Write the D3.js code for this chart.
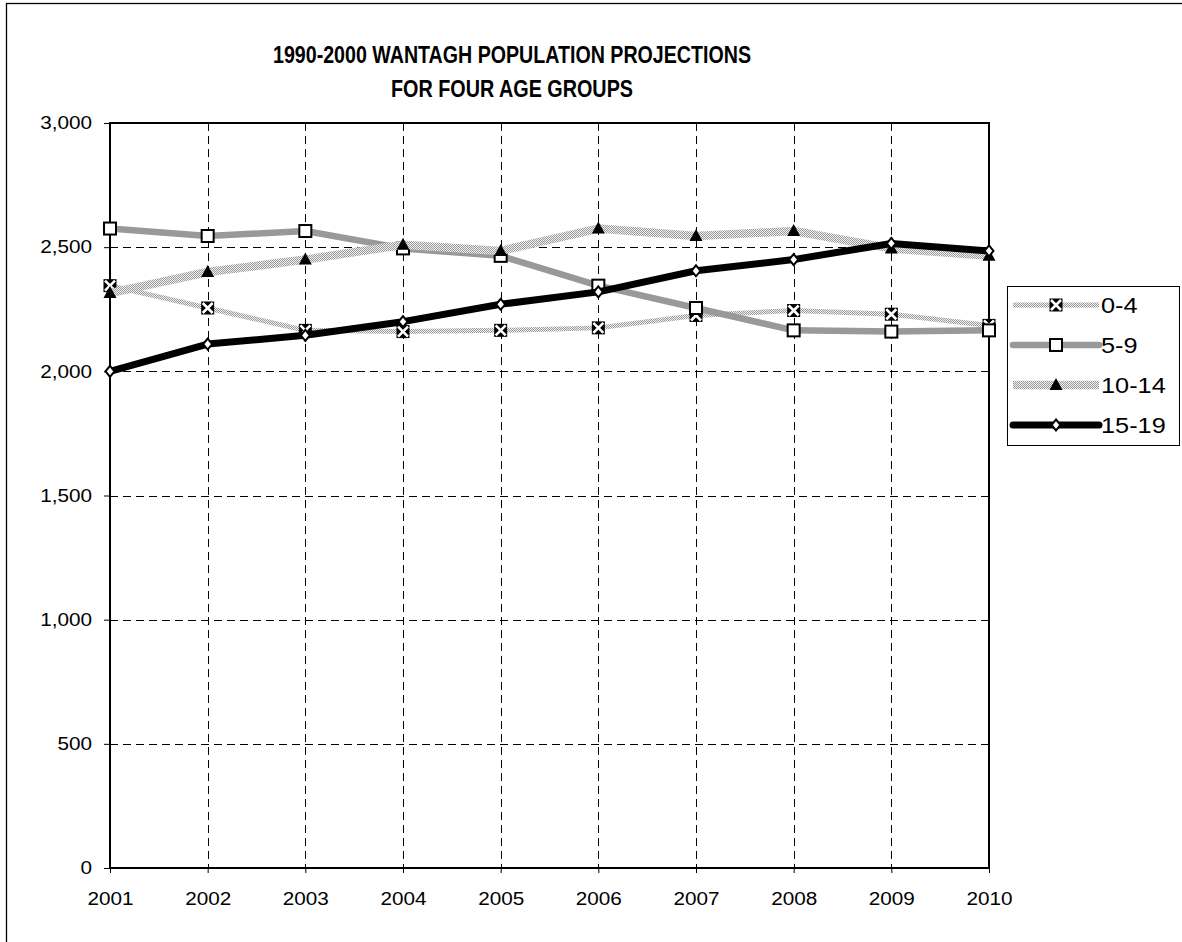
<!DOCTYPE html>
<html>
<head>
<meta charset="utf-8">
<script src="https://cdn.jsdelivr.net/npm/d3@7"></script>
<style>
  html, body { margin: 0; padding: 0; background: #fff; }
  svg { display: block; font-family: "Liberation Sans", Arial, sans-serif; }
</style>
</head>
<body>
<svg id="chart" width="1182" height="942"></svg>
<script>
const years = [2001, 2002, 2003, 2004, 2005, 2006, 2007, 2008, 2009, 2010];
const seriesNames = ["0-4", "5-9", "10-14", "15-19"];
const age0to4   = [2345, 2255, 2165, 2160, 2165, 2175, 2225, 2245, 2230, 2185];
const age5to9   = [2575, 2545, 2565, 2495, 2465, 2345, 2255, 2165, 2160, 2165];
const age10to14 = [2315, 2400, 2450, 2510, 2485, 2575, 2545, 2565, 2495, 2465];
const age15to19 = [2000, 2110, 2145, 2200, 2270, 2320, 2405, 2450, 2515, 2485];
const yTicks = [0, 500, 1000, 1500, 2000, 2500, 3000];
const titleLines = ["1990-2000 WANTAGH POPULATION PROJECTIONS", "FOR FOUR AGE GROUPS"];

const svg = d3.select("#chart");
const defs = svg.append("defs");
const pat = defs.append("pattern").attr("id", "dots")
  .attr("width", 2).attr("height", 2).attr("patternUnits", "userSpaceOnUse");
pat.append("rect").attr("width", 2).attr("height", 2).attr("fill", "#f2f2f2");
pat.append("rect").attr("x", 0).attr("y", 0).attr("width", 1).attr("height", 1).attr("fill", "#999");
pat.append("rect").attr("x", 1).attr("y", 1).attr("width", 1).attr("height", 1).attr("fill", "#999");

function stretch(sel, k) {
  sel.each(function () {
    const w = this.getComputedTextLength();
    d3.select(this).attr("textLength", w * k).attr("lengthAdjust", "spacingAndGlyphs");
  });
}

// outer frame
svg.append("rect").attr("x", 6.5).attr("y", 3.5).attr("width", 1200).attr("height", 1000)
  .attr("fill", "none").attr("stroke", "#000").attr("stroke-width", 1.3);

const L = 110, R = 989, T = 123, B = 868;
const x = d3.scaleLinear().domain([years[0], years[years.length - 1]]).range([L, R]);
const y = d3.scaleLinear().domain([0, 3000]).range([B, T]);

// title
svg.append("g").selectAll("text").data(titleLines).join("text")
  .attr("x", 512).attr("y", (d, i) => 63 + i * 33.5)
  .attr("text-anchor", "middle").attr("font-weight", "bold").attr("font-size", 23.5)
  .attr("textLength", (d, i) => i === 0 ? 478 : 242).attr("lengthAdjust", "spacingAndGlyphs")
  .text(d => d);

// grid
const grid = svg.append("g").attr("stroke", "#000").attr("stroke-width", 1).attr("stroke-dasharray", "8,5");
grid.selectAll("line.h").data(yTicks.filter(v => v > 0 && v < 3000)).join("line").attr("class", "h")
  .attr("x1", L).attr("x2", R).attr("y1", d => Math.round(y(d)) + 0.5).attr("y2", d => Math.round(y(d)) + 0.5);
grid.selectAll("line.v").data(years.slice(1, -1)).join("line").attr("class", "v")
  .attr("y1", T).attr("y2", B).attr("x1", d => Math.round(x(d)) + 0.5).attr("x2", d => Math.round(x(d)) + 0.5);

// axes
const yAxis = svg.append("g").attr("transform", `translate(${L},0)`)
  .call(d3.axisLeft(y).tickValues(yTicks).tickFormat(d3.format(",")).tickSize(6).tickPadding(12));
const xAxis = svg.append("g").attr("transform", `translate(0,${B})`)
  .call(d3.axisBottom(x).tickValues(years).tickFormat(d3.format("d")).tickSize(5).tickPadding(19));
[yAxis, xAxis].forEach(a => {
  a.select(".domain").remove();
  a.attr("font-size", 18).attr("font-family", "'Liberation Sans', Arial, sans-serif");
  a.selectAll("line").attr("stroke", "#000").attr("stroke-width", 1);
  a.selectAll("text").attr("font-size", 18).attr("fill", "#000");
  stretch(a.selectAll("text"), 1.15);
});

// plot border
svg.append("rect").attr("x", L).attr("y", T).attr("width", R - L).attr("height", B - T)
  .attr("fill", "none").attr("stroke", "#000").attr("stroke-width", 2);

const series = [
  { name: seriesNames[0], values: age0to4, stroke: "url(#dots)", width: 5, cap: "butt", marker: "xsq" },
  { name: seriesNames[1], values: age5to9, stroke: "#999999", width: 6.5, cap: "round", marker: "square" },
  { name: seriesNames[2], values: age10to14, stroke: "url(#dots)", width: 8.5, cap: "butt", marker: "triangle" },
  { name: seriesNames[3], values: age15to19, stroke: "#000", width: 7, cap: "round", marker: "diamond" }
];

function drawMarker(g, type, cx, cy) {
  if (type === "xsq") {
    g.append("rect").attr("x", cx - 6.5).attr("y", cy - 6.5).attr("width", 13).attr("height", 13).attr("fill", "#000");
    g.append("path").attr("d", `M${cx - 5},${cy - 5}L${cx + 5},${cy + 5}M${cx + 5},${cy - 5}L${cx - 5},${cy + 5}`)
      .attr("stroke", "#fff").attr("stroke-width", 2.6);
  } else if (type === "square") {
    g.append("rect").attr("x", cx - 6).attr("y", cy - 6).attr("width", 12).attr("height", 12)
      .attr("fill", "#fff").attr("stroke", "#000").attr("stroke-width", 2);
  } else if (type === "triangle") {
    g.append("path").attr("d", `M${cx},${cy - 7}L${cx + 6.5},${cy + 5}L${cx - 6.5},${cy + 5}Z`).attr("fill", "#000");
  } else if (type === "diamond") {
    g.append("path").attr("d", `M${cx},${cy - 5.5}L${cx + 4.5},${cy}L${cx},${cy + 5.5}L${cx - 4.5},${cy}Z`)
      .attr("fill", "#fff").attr("stroke", "#000").attr("stroke-width", 2);
  }
}

const line = d3.line().x((d, i) => x(years[i])).y(d => y(d));
series.forEach(s => {
  const g = svg.append("g");
  g.append("path").datum(s.values).attr("d", line).attr("fill", "none")
    .attr("stroke", s.stroke).attr("stroke-width", s.width).attr("stroke-linejoin", "round").attr("stroke-linecap", s.cap);
  s.values.forEach((v, i) => drawMarker(g, s.marker, x(years[i]), y(v)));
});

// legend
const lg = svg.append("g");
lg.append("rect").attr("x", 1007.5).attr("y", 286.5).attr("width", 172).attr("height", 159)
  .attr("fill", "#fff").attr("stroke", "#000").attr("stroke-width", 1);
series.forEach((s, i) => {
  const cy = 305 + i * 40;
  lg.append("line").attr("x1", 1013).attr("x2", 1099).attr("y1", cy).attr("y2", cy)
    .attr("stroke", s.stroke).attr("stroke-width", s.width).attr("stroke-linecap", s.cap);
  drawMarker(lg, s.marker, 1056, cy);
  const t = lg.append("text").attr("x", 1101).attr("y", cy).attr("dy", "0.36em")
    .attr("font-size", 22).text(s.name);
  stretch(t, 1.15);
});
</script>
</body>
</html>
